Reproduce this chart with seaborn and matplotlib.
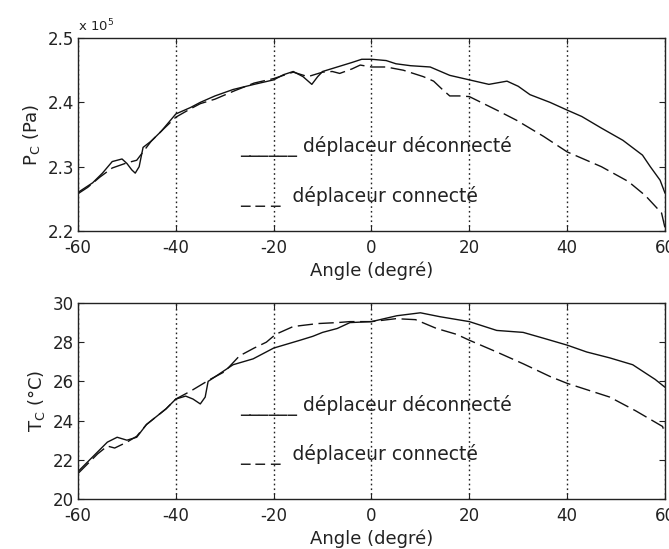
import numpy as np
import pandas as pd
import matplotlib
matplotlib.use("Agg")
import matplotlib.pyplot as plt
import seaborn as sns

# ---------------- data ----------------
# Top panel: pressure Pc, in units of 1e5 Pa
p_disc_angle = [-60, -57, -55, -53, -51, -50, -49, -48.3, -47.5, -46.7, -45, -43, -40, -37, -35, -32,
                -28.3, -24, -20, -18, -16, -14, -12.2, -11, -10, -7, -4, -2, 0, 3, 5, 8, 12, 16, 20,
                24, 27.7, 30, 32.4, 36.5, 40, 43, 47, 51.4, 55.4, 57, 59, 60]
p_disc_value = [2.26, 2.275, 2.29, 2.308, 2.312, 2.305, 2.295, 2.29, 2.30, 2.33, 2.34, 2.355, 2.382, 2.392,
                2.40, 2.41, 2.42, 2.428, 2.435, 2.443, 2.448, 2.44, 2.428, 2.44, 2.448, 2.455, 2.462,
                2.467, 2.467, 2.465, 2.46, 2.457, 2.455, 2.442, 2.435, 2.428, 2.433, 2.425, 2.412,
                2.40, 2.388, 2.378, 2.36, 2.341, 2.318, 2.30, 2.279, 2.259]

p_conn_angle = [-60, -58, -55.5, -53, -50, -48, -46.5, -45, -43, -40, -37, -35, -32, -28, -24, -20, -16,
                -13, -10, -8, -6.5, -4, -2.3, 0, 3, 6.5, 10.6, 12.7, 14.5, 16, 18, 20, 25.6, 29.7,
                35.2, 40, 47, 52.5, 56, 59.3, 60]
p_conn_value = [2.258, 2.268, 2.284, 2.298, 2.306, 2.31, 2.325, 2.34, 2.355, 2.377, 2.39, 2.398, 2.405,
                2.418, 2.43, 2.437, 2.447, 2.44, 2.447, 2.448, 2.445, 2.452, 2.458, 2.455, 2.455,
                2.45, 2.44, 2.433, 2.42, 2.41, 2.41, 2.409, 2.388, 2.372, 2.347, 2.323, 2.30,
                2.277, 2.255, 2.228, 2.205]

# Bottom panel: temperature Tc, degC
t_disc_angle = [-60, -58, -56, -54, -52, -50, -48, -46, -44, -42, -40, -38, -36.5, -35, -34, -33.4, -31,
                -28.3, -24.2, -20, -14.6, -12, -10, -7, -4.4, 0, 5.2, 10, 14, 20, 25.6, 31, 35.2,
                40, 44, 48.7, 53.4, 58, 60]
t_disc_value = [21.4, 21.9, 22.4, 22.9, 23.15, 23.0, 23.15, 23.8, 24.2, 24.6, 25.1, 25.25, 25.1, 24.85,
                25.2, 26.0, 26.4, 26.85, 27.15, 27.7, 28.1, 28.3, 28.5, 28.7, 29.0, 29.05, 29.35,
                29.5, 29.3, 29.05, 28.6, 28.5, 28.2, 27.85, 27.5, 27.2, 26.85, 26.1, 25.7]

t_conn_angle = [-60, -58, -56, -54, -52.5, -50, -48, -46, -42, -40, -37, -35, -33, -30, -27, -24, -21.5,
                -19.6, -16, -11, -7, -4.4, 0, 5, 9, 13.3, 17.4, 20, 25.6, 31, 36.5, 40, 48.7, 54,
                59.5, 60]
t_conn_value = [21.3, 21.8, 22.3, 22.7, 22.6, 22.9, 23.2, 23.8, 24.6, 25.1, 25.5, 25.8, 26.1, 26.5,
                27.3, 27.7, 28.0, 28.4, 28.8, 28.95, 29.0, 29.05, 29.05, 29.2, 29.15, 28.7, 28.4,
                28.1, 27.5, 26.9, 26.25, 25.9, 25.2, 24.5, 23.7, 23.35]

series_names = ["déplaceur déconnecté", "déplaceur connecté"]
x_ticks = [-60, -40, -20, 0, 20, 40, 60]
p_ticks = [2.2, 2.3, 2.4, 2.5]
t_ticks = [20, 22, 24, 26, 28, 30]
x_label = "Angle (degré)"
p_label = r"P$_{\rm C}$ (Pa)"
t_label = r"T$_{\rm C}$ (°C)"
p_multiplier = r"x 10$^{5}$"

# ---------------- styling ----------------
sns.set_style("ticks", {"xtick.direction": "in", "ytick.direction": "in"})
plt.rcParams["font.family"] = ["DejaVu Sans"]
plt.rcParams["axes.unicode_minus"] = False
plt.rcParams["mathtext.default"] = "regular"


def make_df(a1, v1, a2, v2):
    d1 = pd.DataFrame({"angle": a1, "value": v1, "series": series_names[0]})
    d2 = pd.DataFrame({"angle": a2, "value": v2, "series": series_names[1]})
    return pd.concat([d1, d2], ignore_index=True)


df_p = make_df(p_disc_angle, p_disc_value, p_conn_angle, p_conn_value)
df_t = make_df(t_disc_angle, t_disc_value, t_conn_angle, t_conn_value)

fig = plt.figure(figsize=(6.69, 5.49), dpi=100)
ax1 = fig.add_axes([0.1166, 0.5792, 0.8774, 0.3515])
ax2 = fig.add_axes([0.1166, 0.0911, 0.8774, 0.357])

dash_map = {series_names[0]: "", series_names[1]: (11, 4)}


def style_axis(ax, ylim, yticks, ylabel):
    ax.set_xlim(-60, 60)
    ax.set_ylim(*ylim)
    ax.set_xticks(x_ticks)
    ax.set_yticks(yticks)
    ax.set_yticklabels([f"{t:g}" for t in yticks])
    ax.set_xticklabels([f"{t:g}" for t in x_ticks])
    ax.set_xlabel(x_label, fontsize=13, labelpad=3, color="#222222")
    ax.set_ylabel(ylabel, fontsize=13, labelpad=4, color="#222222")
    ax.tick_params(axis="both", which="both", direction="in", length=4, width=0.8,
                   top=True, right=True, labelsize=12, colors="#222222")
    ax.tick_params(axis="x", pad=6)
    ax.tick_params(axis="y", pad=3)
    for s in ax.spines.values():
        s.set_color("#222222")
        s.set_linewidth(1.0)
    ax.xaxis.grid(True, linestyle=(0, (1.2, 2.2)), color="#222222", linewidth=1.0)
    ax.yaxis.grid(False)
    ax.set_axisbelow(True)


for ax, df in ((ax1, df_p), (ax2, df_t)):
    sns.lineplot(data=df, x="angle", y="value", style="series", dashes=dash_map,
                 color="#111111", linewidth=1.0, estimator=None, sort=False,
                 legend=False, ax=ax)

style_axis(ax1, (2.2, 2.5), p_ticks, p_label)
style_axis(ax2, (20, 30), t_ticks, t_label)

ax1.text(0.0, 1.035, p_multiplier, transform=ax1.transAxes, fontsize=9.5,
         ha="left", va="baseline", color="#222222")

# in-plot annotation (text labels with underscore "legend" keys, as in the original)
label_solid = "______ " + series_names[0]
label_dash = "_ _ _  " + series_names[1]
ax1.text(0.276, 0.409, label_solid, transform=ax1.transAxes, fontsize=13.5,
         ha="left", va="baseline", color="#222222")
ax1.text(0.276, 0.150, label_dash, transform=ax1.transAxes, fontsize=13.5,
         ha="left", va="baseline", color="#222222")
ax2.text(0.276, 0.449, label_solid, transform=ax2.transAxes, fontsize=13.5,
         ha="left", va="baseline", color="#222222")
ax2.text(0.276, 0.199, label_dash, transform=ax2.transAxes, fontsize=13.5,
         ha="left", va="baseline", color="#222222")

fig.savefig("out.png", dpi=100, facecolor="white")
